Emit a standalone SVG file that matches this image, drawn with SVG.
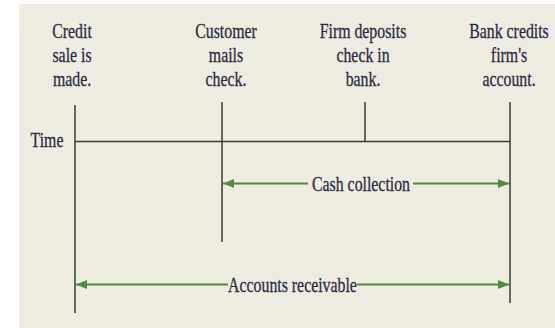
<svg xmlns="http://www.w3.org/2000/svg" width="555" height="328" viewBox="0 0 555 328">
<style>
.lbl{font-family:"Liberation Serif","Times New Roman",serif;font-size:22px;fill:#2b2a44;stroke:#2b2a44;stroke-width:0.3;text-anchor:middle}
.tick{stroke:#3a3a3a;stroke-width:1.5;fill:none}
.arr{stroke:#4e8d3b;stroke-width:2;fill:none;marker-end:url(#ah)}
</style>
<defs>
<marker id="ah" viewBox="0 0 11 9" refX="11" refY="4.5" markerWidth="11" markerHeight="9" orient="auto" markerUnits="userSpaceOnUse">
<path d="M0,0 L11,4.5 L0,9 z" fill="#4e8d3b"/>
</marker>
</defs>
<rect x="0" y="0" width="555" height="328" fill="#ffffff"/>
<rect x="19" y="4" width="536" height="324" fill="#eeebe0"/>

<g id="time-axis">
<line class="tick" x1="75" y1="141.5" x2="510" y2="141.5"/>
<text class="lbl" transform="translate(47,147) scale(0.72,1)">Time</text>
</g>

<g id="credit-sale">
<line class="tick" x1="75" y1="105" x2="75" y2="313"/>
<text class="lbl" transform="translate(72,0) scale(0.72,1)"><tspan x="0" y="38">Credit</tspan><tspan x="0" y="62">sale is</tspan><tspan x="0" y="86">made.</tspan></text>
</g>

<g id="customer-mails">
<line class="tick" x1="222" y1="102" x2="222" y2="242"/>
<text class="lbl" transform="translate(226,0) scale(0.72,1)"><tspan x="0" y="38">Customer</tspan><tspan x="0" y="62">mails</tspan><tspan x="0" y="86">check.</tspan></text>
</g>

<g id="firm-deposits">
<line class="tick" x1="365" y1="102" x2="365" y2="141.5"/>
<text class="lbl" transform="translate(363,0) scale(0.72,1)"><tspan x="0" y="38">Firm deposits</tspan><tspan x="0" y="62">check in</tspan><tspan x="0" y="86">bank.</tspan></text>
</g>

<g id="bank-credits">
<line class="tick" x1="510" y1="102" x2="510" y2="303"/>
<text class="lbl" transform="translate(509,0) scale(0.72,1)"><tspan x="0" y="38">Bank credits</tspan><tspan x="0" y="62">firm's</tspan><tspan x="0" y="86">account.</tspan></text>
</g>

<g id="connectors">
<g id="cash-collection">
<path class="arr" d="M308,183.5 H223"/>
<path class="arr" d="M413,183.5 H509"/>
<text class="lbl" transform="translate(361,191) scale(0.72,1)">Cash collection</text>
</g>
<g id="accounts-receivable">
<path class="arr" d="M228,284.5 H76"/>
<path class="arr" d="M357,284.5 H509"/>
<text class="lbl" transform="translate(292.5,292) scale(0.72,1)">Accounts receivable</text>
</g>
</g>
</svg>
